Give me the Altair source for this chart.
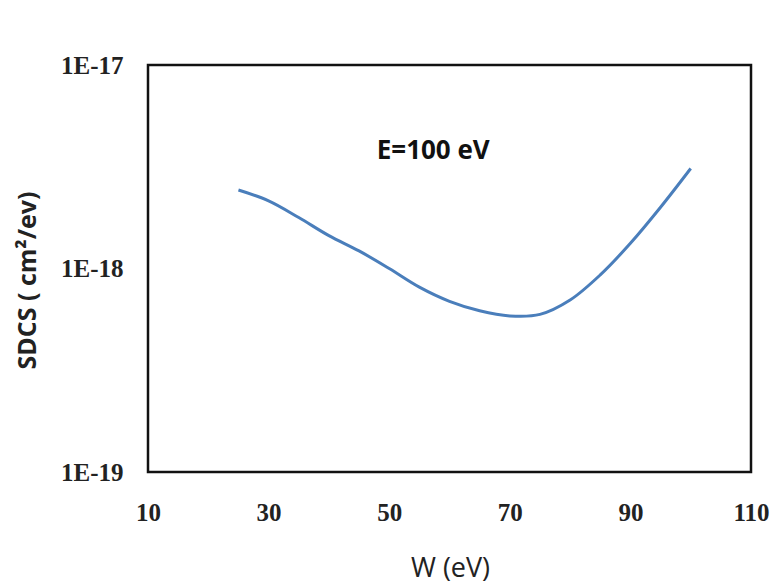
import altair as alt
import pandas as pd

# Singly differential cross section vs. ejected-electron energy
w_ev = [25, 30, 35, 40, 45, 50, 55, 60, 65, 70, 75, 80, 85, 90, 95, 100]
sdcs = [2.43e-18, 2.15e-18, 1.78e-18, 1.45e-18, 1.22e-18, 1.0e-18, 0.81e-18, 0.69e-18,
        0.62e-18, 0.585e-18, 0.595e-18, 0.70e-18, 0.93e-18, 1.33e-18, 2.0e-18, 3.1e-18]

label_text = ["E=100 eV"]
label_w = [57.3]
label_y = [3.8e-18]

x_ticks = [10, 30, 50, 70, 90, 110]
y_ticks = [1e-19, 1e-18, 1e-17]

df = pd.DataFrame({"W": w_ev, "SDCS": sdcs})
lab = pd.DataFrame({"W": label_w, "SDCS": label_y, "t": label_text})

x_scale = alt.Scale(domain=[10, 110], nice=False, zero=False)
y_scale = alt.Scale(type="log", domain=[1e-19, 1e-17], nice=False)

x_axis = alt.Axis(
    values=x_ticks, grid=False, ticks=False, domain=False, labelFlush=False,
    labelFont="Liberation Serif", labelFontSize=25, labelFontWeight="bold", labelColor="#222",
    labelPadding=28, title="W (eV)", titleFont="Open Sans", titleFontSize=27,
    titleFontWeight="normal", titleColor="#222", titleX=302, titleY=96,
    titleBaseline="middle",
)
y_axis = alt.Axis(
    values=y_ticks, grid=False, ticks=False, domain=False, labelFlush=False,
    labelExpr="datum.value >= 1e-17 ? '1E-17' : (datum.value >= 1e-18 ? '1E-18' : '1E-19')",
    labelFont="Liberation Serif", labelFontSize=25, labelFontWeight="bold", labelColor="#222",
    labelPadding=25, title="SDCS ( cm²/ev)", titleFont="Open Sans", titleFontSize=25,
    titleFontWeight="bold", titleColor="#222", titleX=-121, titleY=215,
    titleBaseline="middle", titleAngle=-90,
)

line = alt.Chart(df).mark_line(color="#4A7EBB", strokeWidth=3, interpolate="catmull-rom").encode(
    x=alt.X("W:Q", scale=x_scale, axis=x_axis),
    y=alt.Y("SDCS:Q", scale=y_scale, axis=y_axis),
)

text = alt.Chart(lab).mark_text(
    font="Open Sans", fontSize=26, fontWeight="bold", color="#111"
).encode(
    x=alt.X("W:Q", scale=x_scale),
    y=alt.Y("SDCS:Q", scale=y_scale),
    text="t:N",
)

chart = (line + text).properties(
    width=603, height=407,
    autosize=alt.AutoSizeParams(type="none"),
    padding={"left": 148, "top": 65, "right": 25, "bottom": 113},
    background="white",
).configure_view(stroke="#111", strokeWidth=2.5)

chart.save("out.html", embed_options={"renderer": "svg", "actions": False})
